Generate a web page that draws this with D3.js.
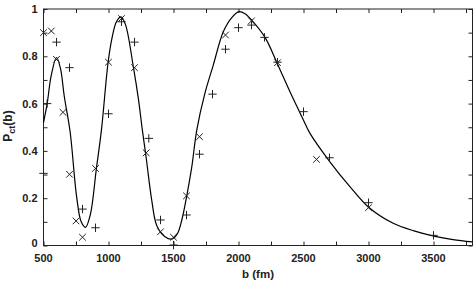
<!DOCTYPE html>
<html>
<head>
<meta charset="utf-8">
<script src="https://cdn.jsdelivr.net/npm/d3@7"></script>
<style>
  body { margin: 0; background: #fff; }
  text { font-family: "Liberation Sans", Arial, sans-serif; font-weight: bold; }
</style>
</head>
<body>
<div id="chart"></div>
<script>
// curve (b in fm, P)
let curveB = [500, 528, 560, 600, 630, 660, 705, 754, 790, 823, 860, 907, 946, 997, 1030, 1061, 1095, 1130, 1192, 1230, 1260, 1290, 1333, 1371, 1435, 1487, 1530, 1565, 1602, 1640, 1679, 1740, 1806, 1883, 1950, 2004, 2050, 2101, 2204, 2298, 2396, 2500, 2550, 2703, 2857, 3003, 3190, 3350, 3502, 3650, 3800];
let curveP = [0.52, 0.60, 0.72, 0.795, 0.75, 0.63, 0.48, 0.21, 0.10, 0.077, 0.13, 0.326, 0.49, 0.775, 0.885, 0.946, 0.967, 0.935, 0.752, 0.62, 0.49, 0.37, 0.19, 0.085, 0.037, 0.027, 0.05, 0.11, 0.21, 0.33, 0.488, 0.64, 0.763, 0.904, 0.965, 0.989, 0.98, 0.953, 0.88, 0.77, 0.65, 0.53, 0.474, 0.354, 0.249, 0.161, 0.094, 0.062, 0.04, 0.025, 0.015];

// "x" markers
let crossB = [500, 560, 600, 650, 700, 750, 800, 900, 1000, 1100, 1200, 1290, 1400, 1500, 1600, 1700, 1900, 2100, 2300, 2600, 3000];
let crossP = [0.90, 0.907, 0.787, 0.563, 0.301, 0.104, 0.035, 0.326, 0.775, 0.96, 0.752, 0.392, 0.058, 0.035, 0.21, 0.46, 0.89, 0.95, 0.773, 0.364, 0.16];

// "+" markers
let plusB = [500, 528, 600, 700, 800, 900, 1000, 1100, 1200, 1310, 1400, 1500, 1600, 1700, 1800, 1900, 2000, 2100, 2200, 2300, 2500, 2700, 3000, 3500];
let plusP = [0.305, 0.60, 0.86, 0.752, 0.154, 0.075, 0.557, 0.946, 0.86, 0.453, 0.108, 0.002, 0.129, 0.386, 0.64, 0.83, 0.921, 0.932, 0.88, 0.775, 0.566, 0.371, 0.181, 0.043];

let xTicks = [500, 1000, 1500, 2000, 2500, 3000, 3500];
let yTicks = [0, 0.2, 0.4, 0.6, 0.8, 1];

let width = 475, height = 282;
let margin = {top: 9, right: 2.5, bottom: 36.5, left: 43.5};
let innerW = width - margin.left - margin.right;
let innerH = height - margin.top - margin.bottom;
let ink = "#222";

let svg = d3.select("#chart").append("svg")
  .attr("width", width)
  .attr("height", height);

let g = svg.append("g")
  .attr("transform", "translate(" + margin.left + "," + margin.top + ")");

let x = d3.scaleLinear().domain([500, 3800]).range([0, innerW]);
let y = d3.scaleLinear().domain([0, 1]).range([innerH, 0]);

let minorX = d3.range(500, 3801, 250);
let minorY = d3.range(0, 1.001, 0.1);

// ticks on all four sides, pointing inward
g.append("g")
  .attr("transform", "translate(0," + innerH + ")")
  .call(d3.axisBottom(x).tickValues(minorX).tickSizeInner(-4).tickSizeOuter(0).tickFormat(""))
  .call(a => a.select(".domain").remove());
g.append("g")
  .call(d3.axisTop(x).tickValues(minorX).tickSizeInner(-4).tickSizeOuter(0).tickFormat(""))
  .call(a => a.select(".domain").remove());
g.append("g")
  .call(d3.axisLeft(y).tickValues(minorY).tickSizeInner(-4).tickSizeOuter(0).tickFormat(""))
  .call(a => a.select(".domain").remove());
g.append("g")
  .attr("transform", "translate(" + innerW + ",0)")
  .call(d3.axisRight(y).tickValues(minorY).tickSizeInner(-4).tickSizeOuter(0).tickFormat(""))
  .call(a => a.select(".domain").remove());
g.selectAll(".tick line").attr("stroke", ink);

// tick labels
g.selectAll(".xlab")
  .data(xTicks)
  .enter()
  .append("text")
    .attr("x", d => x(d))
    .attr("y", innerH + 16.5)
    .attr("text-anchor", "middle")
    .style("font-size", "11px")
    .attr("fill", ink)
    .text(d => d);

g.selectAll(".ylab")
  .data(yTicks)
  .enter()
  .append("text")
    .attr("x", -6)
    .attr("y", d => Math.max(y(d), 0) + 4)
    .attr("dy", d => d === 0 ? -3 : 0)
    .attr("text-anchor", "end")
    .style("font-size", "11px")
    .attr("fill", ink)
    .text(d => d);

// frame
g.append("rect")
  .attr("width", innerW)
  .attr("height", innerH)
  .attr("fill", "none")
  .attr("stroke", ink)
  .attr("stroke-width", 1);

// curve
let line = d3.line()
  .x(d => x(d[0]))
  .y(d => y(d[1]))
  .curve(d3.curveCatmullRom.alpha(0.5));

g.append("path")
  .datum(curveB.map((b, i) => [b, curveP[i]]))
  .attr("d", line)
  .attr("fill", "none")
  .attr("stroke", "#000")
  .attr("stroke-width", 1.2);

// markers
let cs = 3.3;
g.selectAll(".cross")
  .data(crossB.map((b, i) => [b, crossP[i]]))
  .enter()
  .append("path")
    .attr("d", d => {
      let cx = x(d[0]), cy = y(d[1]);
      return "M" + (cx - cs) + "," + (cy - cs) + "L" + (cx + cs) + "," + (cy + cs) +
             "M" + (cx - cs) + "," + (cy + cs) + "L" + (cx + cs) + "," + (cy - cs);
    })
    .attr("stroke", ink)
    .attr("stroke-width", 1);

let ps = 4.2;
g.selectAll(".plus")
  .data(plusB.map((b, i) => [b, plusP[i]]))
  .enter()
  .append("path")
    .attr("d", d => {
      let cx = x(d[0]), cy = y(d[1]);
      return "M" + (cx - ps) + "," + cy + "L" + (cx + ps) + "," + cy +
             "M" + cx + "," + (cy - ps) + "L" + cx + "," + (cy + ps);
    })
    .attr("stroke", ink)
    .attr("stroke-width", 1);

// axis titles
svg.append("text")
  .attr("x", margin.left + innerW / 2)
  .attr("y", 278)
  .attr("text-anchor", "middle")
  .style("font-size", "11.5px")
  .attr("fill", ink)
  .text("b (fm)");

let yt = svg.append("text")
  .attr("transform", "translate(12,126) rotate(-90)")
  .attr("text-anchor", "middle")
  .style("font-size", "12px")
  .attr("fill", ink);
yt.append("tspan").text("P");
yt.append("tspan").attr("dy", 3).style("font-size", "9px").text("ct");
yt.append("tspan").attr("dy", -3).text("(b)");
</script>
</body>
</html>
